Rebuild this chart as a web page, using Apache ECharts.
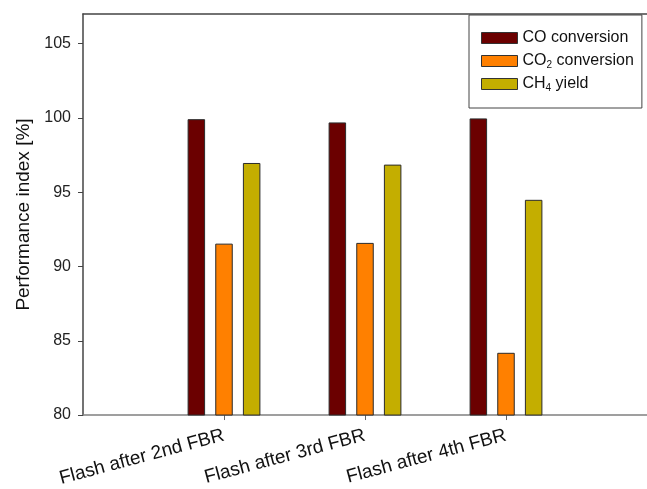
<!DOCTYPE html>
<html>
<head>
<meta charset="utf-8">
<script src="https://cdn.jsdelivr.net/npm/echarts@6/dist/echarts.min.js"></script>
<style>
html,body{margin:0;padding:0;background:#fff;}
#chart{width:647px;height:489px;}
</style>
</head>
<body>
<div id="chart"></div>
<script>
// Data
var categories = ['Flash after 2nd FBR', 'Flash after 3rd FBR', 'Flash after 4th FBR'];
var categoryPositions = [1, 2, 3];
var seriesNames = ['CO conversion', 'CO2 conversion', 'CH4 yield'];
var legendLabels = ['CO conversion', 'CO{sub|2} conversion', 'CH{sub|4} yield'];
var coConversion = [99.92, 99.70, 99.97];
var co2Conversion = [91.54, 91.59, 84.19];
var ch4Yield = [96.97, 96.86, 94.49];
var yTicks = [80, 85, 90, 95, 100, 105];

var colors = ['#6b0000', '#ff8000', '#c4ae00'];
var font = 'Liberation Sans, Arial, sans-serif';

function pairs(vals) {
  return vals.map(function (v, i) { return [categoryPositions[i], v]; });
}
var seriesValues = [coConversion, co2Conversion, ch4Yield];

var chart = echarts.init(document.getElementById('chart'), null, {renderer: 'canvas'});
var option = {
  animation: false,
  backgroundColor: '#fff',
  textStyle: {fontFamily: font},
  grid: {left: 83, right: 0, top: 14, bottom: 69, containLabel: false},
  legend: {
    left: 469, top: 15,
    orient: 'vertical',
    icon: 'rect',
    itemWidth: 36, itemHeight: 11, itemGap: 5, itemTextGap: 10,
    padding: [14, 8, 15, 12],
    borderColor: '#444', borderWidth: 1,
    backgroundColor: '#fff',
    data: seriesNames,
    formatter: function (name) { return legendLabels[seriesNames.indexOf(name)]; },
    textStyle: {
      fontFamily: font, fontSize: 16, color: '#111', lineHeight: 18,
      rich: {sub: {fontFamily: font, fontSize: 10, color: '#111', lineHeight: 18, verticalAlign: 'bottom', padding: [6, 0, 0, 0]}}
    },
    itemStyle: {borderColor: '#333', borderWidth: 1}
  },
  xAxis: [{
    type: 'value', min: 0, max: 4, interval: 1,
    position: 'bottom',
    splitLine: {show: false},
    axisLine: {show: true, onZero: false, lineStyle: {color: '#808080', width: 1.5}},
    axisTick: {show: true, customValues: categoryPositions, length: 5, lineStyle: {color: '#666'}},
    axisLabel: {
      customValues: categoryPositions,
      rotate: 15, margin: 20,
      fontFamily: font, fontSize: 19, color: '#111',
      formatter: function (v) {
        var i = categoryPositions.indexOf(v);
        return i >= 0 ? categories[i] : '';
      }
    }
  }, {
    type: 'value', min: 0, max: 4,
    position: 'top',
    splitLine: {show: false},
    axisLine: {show: true, onZero: false, lineStyle: {color: '#444', width: 1.5}},
    axisTick: {show: false},
    axisLabel: {show: false}
  }],
  yAxis: {
    type: 'value', min: 80, max: 107, interval: 5,
    name: 'Performance index [%]',
    nameLocation: 'middle', nameGap: 50,
    nameTextStyle: {fontFamily: font, fontSize: 19, color: '#111'},
    splitLine: {show: false},
    axisLine: {show: true, onZero: false, lineStyle: {color: '#444', width: 1.5}},
    axisTick: {show: true, customValues: yTicks, length: 5, lineStyle: {color: '#444'}},
    axisLabel: {customValues: yTicks, margin: 12, fontFamily: font, fontSize: 16, color: '#222'}
  },
  series: seriesNames.map(function (name, k) {
    return {
      name: name,
      type: 'bar',
      xAxisIndex: 0,
      barWidth: 17.5,
      barGap: '58%',
      itemStyle: {color: colors[k], borderColor: '#2b2b2b', borderWidth: 1},
      data: pairs(seriesValues[k])
    };
  })
};
chart.setOption(option);
</script>
</body>
</html>
